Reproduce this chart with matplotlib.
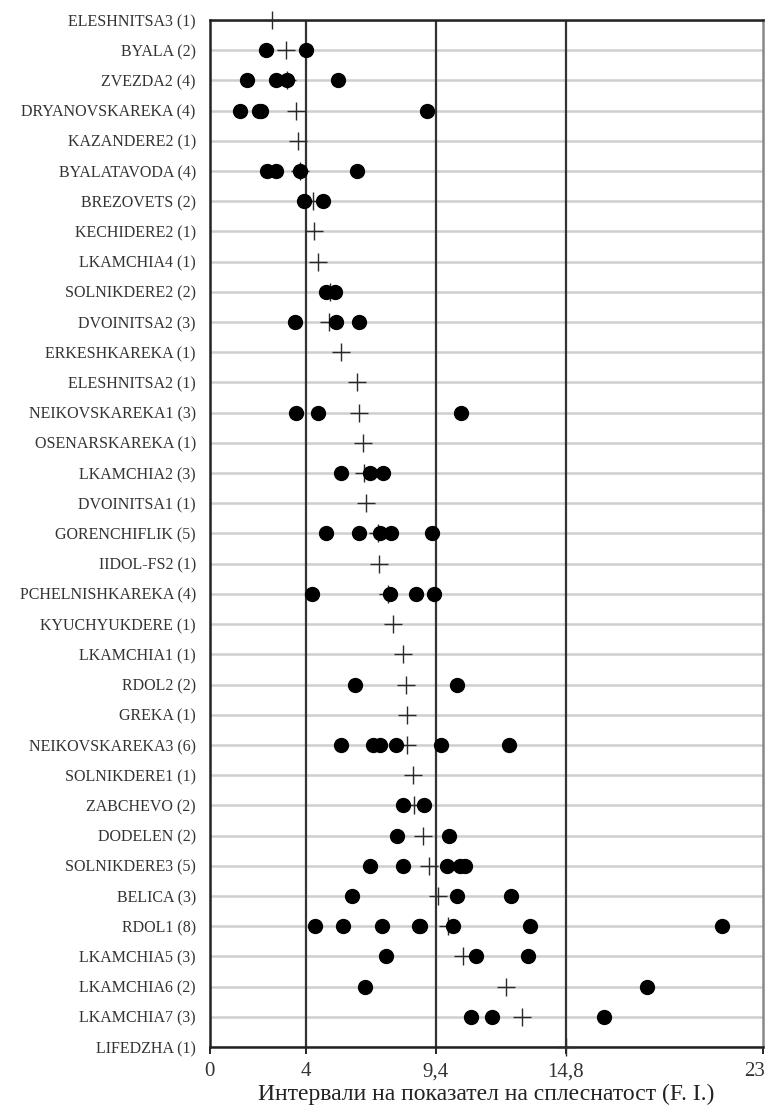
import matplotlib
matplotlib.use('Agg')
import numpy as np
import matplotlib.pyplot as plt
import matplotlib.transforms as mtransforms

# sites with number of samples, top to bottom
sites = ["ELESHNITSA3 (1)", "BYALA (2)", "ZVEZDA2 (4)", "DRYANOVSKAREKA (4)",
         "KAZANDERE2 (1)", "BYALATAVODA (4)", "BREZOVETS (2)", "KECHIDERE2 (1)",
         "LKAMCHIA4 (1)", "SOLNIKDERE2 (2)", "DVOINITSA2 (3)", "ERKESHKAREKA (1)",
         "ELESHNITSA2 (1)", "NEIKOVSKAREKA1 (3)", "OSENARSKAREKA (1)", "LKAMCHIA2 (3)",
         "DVOINITSA1 (1)", "GORENCHIFLIK (5)", "IIDOL-FS2 (1)", "PCHELNISHKAREKA (4)",
         "KYUCHYUKDERE (1)", "LKAMCHIA1 (1)", "RDOL2 (2)", "GREKA (1)",
         "NEIKOVSKAREKA3 (6)", "SOLNIKDERE1 (1)", "ZABCHEVO (2)", "DODELEN (2)",
         "SOLNIKDERE3 (5)", "BELICA (3)", "RDOL1 (8)", "LKAMCHIA5 (3)",
         "LKAMCHIA6 (2)", "LKAMCHIA7 (3)", "LIFEDZHA (1)"]

# individual flatness index values per site
samples = [
    [],
    [2.33, 4.02],
    [1.57, 2.74, 3.21, 5.31],
    [1.25, 2.05, 2.15, 9.04],
    [],
    [2.36, 2.77, 3.74, 6.10],
    [3.92, 4.69],
    [],
    [],
    [4.82, 5.20],
    [3.53, 5.24, 6.21],
    [],
    [],
    [3.60, 4.50, 10.46],
    [],
    [5.47, 6.65, 7.21],
    [],
    [4.85, 6.21, 7.07, 7.55, 9.22],
    [],
    [4.27, 7.48, 8.59, 9.33],
    [],
    [],
    [6.03, 10.26],
    [],
    [5.47, 6.79, 7.07, 7.76, 9.60, 12.43],
    [],
    [8.04, 8.90],
    [7.79, 9.95],
    [6.68, 8.01, 9.85, 10.40, 10.60],
    [5.93, 10.26, 12.52],
    [4.37, 5.54, 7.14, 8.73, 8.70, 10.12, 13.31, 21.29],
    [7.32, 11.06, 13.22],
    [6.44, 18.17],
    [10.84, 11.71, 16.38],
    [],
]

# site means
means = [2.60, 3.16, 3.21, 3.60, 3.65, 3.74, 4.30, 4.34, 4.50, 5.01, 4.95, 5.47,
         6.10, 6.19, 6.35, 6.40, 6.49, 6.98, 7.04, 7.42, 7.62, 8.04, 8.16, 8.18,
         8.20, 8.45, 8.50, 8.86, 9.10, 9.50, 9.90, 10.53, 12.30, 12.97, 14.80]

bounds = [4, 9.4, 14.8]
xticks = [0, 4, 9.4, 14.8, 23]
xticklabels = ["0", "4", "9,4", "14,8", "23"]

plt.rcParams['font.family'] = ['Liberation Serif', 'DejaVu Serif']

fig = plt.figure(figsize=(7.71, 11.17), dpi=100)
ax = fig.add_axes([0.272, 0.0627, 0.718, 0.9194])

n = len(sites)
ypos = np.arange(n)

for y in ypos:
    ax.axhline(y, color='#cfcfcf', lw=1.8, zorder=0)
for b in bounds:
    ax.axvline(b, color='#333333', lw=1.6, zorder=1)

# means first, sample dots drawn over them
ax.plot(means, ypos, '+', color='#2a2a2a', markersize=13, mew=1.0,
        clip_on=False, zorder=3)
for y, vals in zip(ypos, samples):
    if vals:
        ax.plot(vals, [y] * len(vals), 'o', color='black', markersize=10,
                clip_on=False, zorder=4)

ax.set_xlim(0, 23)
ax.set_ylim(n - 1, 0)
ax.set_yticks(ypos)
ax.set_yticklabels(sites, fontsize=11.5, color='#333333')
ax.tick_params(axis='y', length=0, pad=10)
ax.set_xticks(xticks)
ax.set_xticklabels(xticklabels, fontsize=15, color='#333333')
ax.tick_params(axis='x', length=5, width=1.2, direction='out', pad=6)
ax.set_xlabel("Интервали на показател на сплеснатост (F. I.)", fontsize=17,
              color='#222222', labelpad=2)

# keep the last tick label inside the figure edge
last = ax.get_xticklabels()[-1]
last.set_transform(last.get_transform() +
                   mtransforms.ScaledTranslation(-9 / 100, 0, fig.dpi_scale_trans))

for side in ['left', 'bottom', 'top']:
    ax.spines[side].set_linewidth(1.8)
    ax.spines[side].set_color('#222222')
ax.spines['right'].set_linewidth(1.8)
ax.spines['right'].set_color('#888888')

plt.savefig('out.png', dpi=100)
